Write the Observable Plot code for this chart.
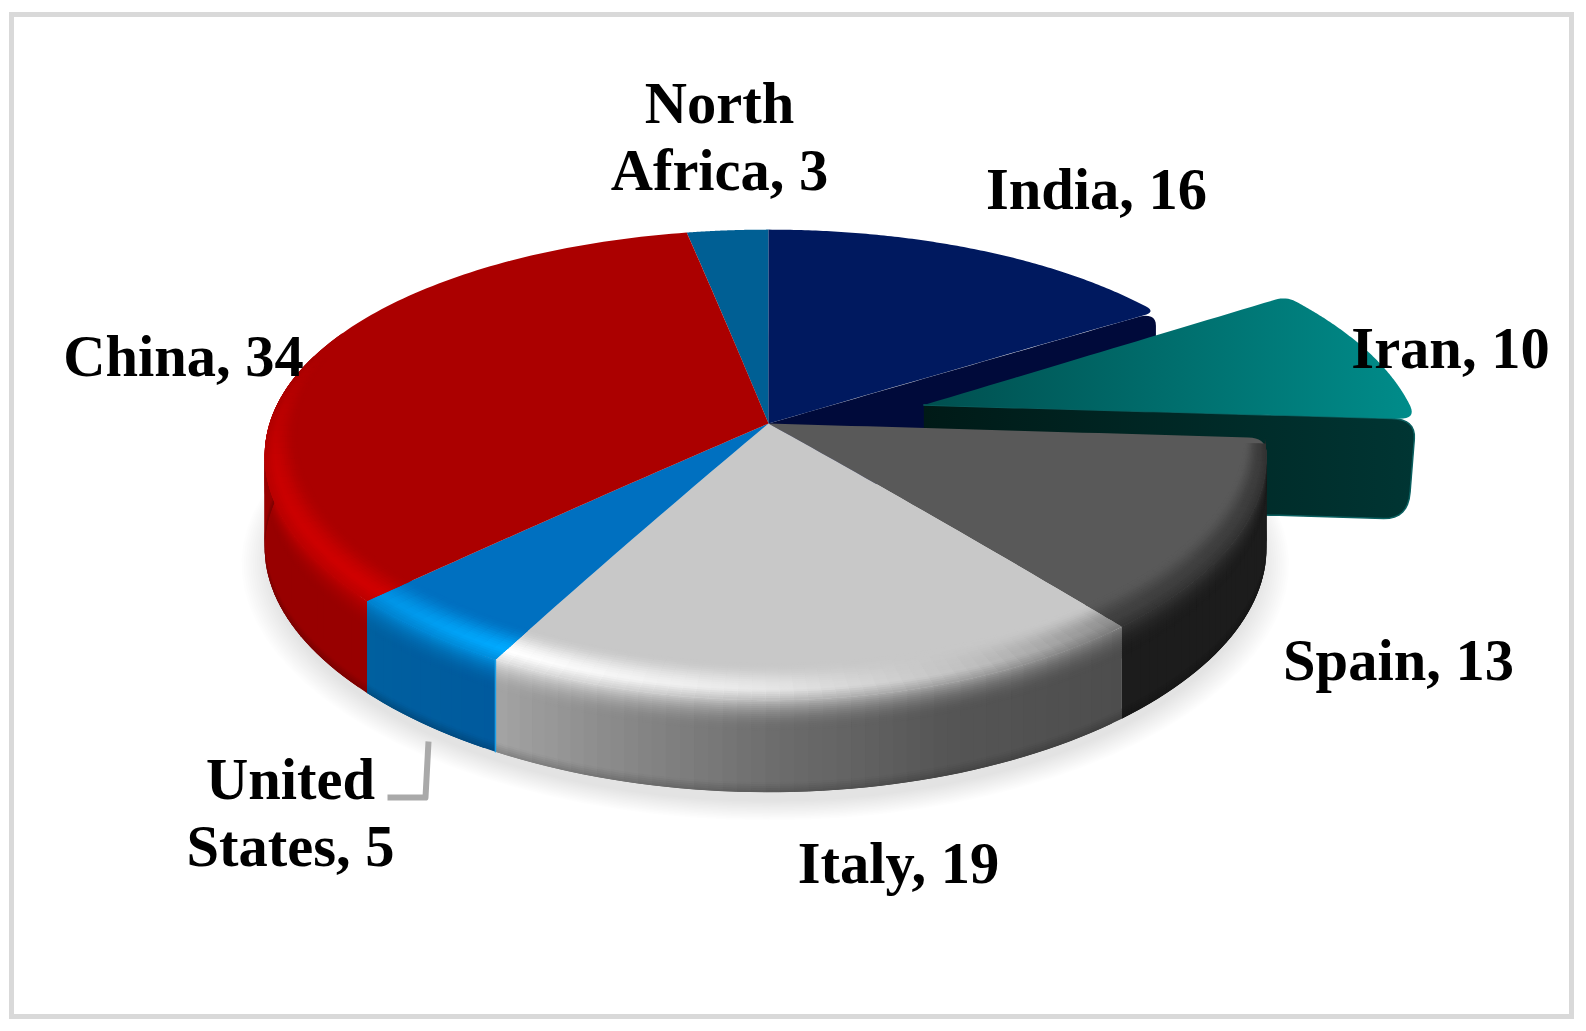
<!DOCTYPE html>
<html>
<head>
<meta charset="utf-8">
<script src="https://cdn.jsdelivr.net/npm/d3@7"></script>
<script src="https://cdn.jsdelivr.net/npm/@observablehq/plot@0.6"></script>
<style>html,body{margin:0;padding:0;background:#fff}svg{display:block}</style>
</head>
<body>
<div id="chart"></div>
<script>
// ---- data (clockwise from twelve o'clock) ----
const categories = ["India", "Iran", "Spain", "Italy", "United States", "China", "North Africa"];
const values = [16, 10, 13, 19, 5, 34, 3];

// ---- labels ----
const labelLines = {"India":"India, 16","Iran":"Iran, 10","Spain":"Spain, 13","Italy":"Italy, 19",
  "United States":"United\nStates, 5","China":"China, 34","North Africa":"North\nAfrica, 3"};
const labelX = {"India":1096,"Iran":1450,"Spain":1398,"Italy":898,"United States":290,"China":183,"North Africa":719};
const labelBase = {"India":208,"Iran":367,"Spain":679,"Italy":882,"United States":865,"China":375,"North Africa":189};
const leader = [[428,741],[425,797],[387,797]];

// ---- styling ----
const topColor = {"India":"#00195f","Iran":"url(#iranTop)","Spain":"#595959","Italy":"#c8c8c8",
  "United States":"#0070c0","China":"#ab0000","North Africa":"#005f94"};
const hiStops = {
  "Spain":[[.26,"#3c3c3c"],[.39,"#404040"]],
  "Italy":[[.39,"#909090"],[.44,"#c0c0c0"],[.5,"#e6e6e6"],[.56,"#fafafa"],[.58,"#ffffff"]],
  "United States":[[.58,"#00aaff"],[.63,"#0092e4"]],
  "China":[[.63,"#d00000"],[.72,"#c80000"],[.8,"#ab0000"]]
};
const sideStops = {
  "Spain":[[.26,"#1c1c1c"],[.39,"#1c1c1c"]],
  "Italy":[[.39,"#4d4d4d"],[.45,"#555555"],[.5,"#6e6e6e"],[.54,"#888888"],[.58,"#a4a4a4"]],
  "United States":[[.58,"#005a9e"],[.63,"#00609f"]],
  "China":[[.63,"#980000"],[.8,"#980000"]]
};

// ---- pie geometry: a unit disc seen in perspective ----
const cx = 768, cy = 423, R = 496, H = 228, K = 0.176, KX = 0.14, depth = 92, iranDepth = 100, explode = 0.33;
const total = d3.sum(values);
const cum = d3.cumsum(values).map(v => v / total);
const span = c => { const i = categories.indexOf(c); return [i ? cum[i-1] : 0, cum[i]]; };
const proj = (r, t, ox = 0, oy = 0, d = 0) => {
  const u = r * Math.sin(2*Math.PI*t), v = r * Math.cos(2*Math.PI*t);
  return [cx + R*u/(1 + KX*v) - 3*u*u, cy - H*v/(1 + K*v) + d];
};
// the pulled-out slice keeps its own mapping
const projIran = (r, t, ox, oy) => {
  const u = r * Math.sin(2*Math.PI*t) + ox, v = r * Math.cos(2*Math.PI*t) + oy, w = 1 + K*v;
  return [cx + 493*u/w, cy - H*v/w];
};
const dist = (a, b) => Math.hypot(a[0]-b[0], a[1]-b[1]);
const ramp = st => d3.scaleLinear().domain(st.map(s=>s[0])).range(st.map(s=>s[1])).interpolate(d3.interpolateRgb).clamp(true);

// outer corners rounded with a quadratic bezier
function rounded(poly, corners, rad) {
  const skip = new Set(), inserts = new Map();
  corners.forEach((c, k) => {
    const rd = Array.isArray(rad) ? rad[k] : rad;
    let a = c-1; while (a > 0 && dist(poly[a], poly[c]) < rd) a--;
    let b = c+1; while (b < poly.length-1 && dist(poly[b], poly[c]) < rd) b++;
    for (let i = a+1; i < b; i++) skip.add(i);
    const seg = [];
    for (let s = 0; s <= 8; s++) { const q = s/8, p = 1-q;
      seg.push([p*p*poly[a][0]+2*p*q*poly[c][0]+q*q*poly[b][0], p*p*poly[a][1]+2*p*q*poly[c][1]+q*q*poly[b][1]]); }
    inserts.set(c, seg);
  });
  const out = [];
  poly.forEach((p,i) => { if (inserts.has(i)) out.push(...inserts.get(i)); else if (!skip.has(i)) out.push(p); });
  return out;
}
function wedge(c, rad = [0, 0], map = (r,t) => proj(r,t)) {
  const [t0, t1] = span(c), pts = [], N = 30, A = 120;
  for (let i = 0; i < N; i++) pts.push(map(i/N, t0));
  const c0 = pts.length;
  for (let i = 0; i <= A; i++) pts.push(map(1, t0 + (t1-t0)*i/A));
  const c1 = pts.length - 1;
  for (let i = N-1; i >= 0; i--) pts.push(map(i/N, t1));
  const cs = [], rs = [];
  if (rad[0]) { cs.push(c0); rs.push(rad[0]); }
  if (rad[1]) { cs.push(c1); rs.push(rad[1]); }
  return cs.length ? rounded(pts, cs, rs) : pts;
}
const toRows = (pts, id, color) => pts.map(p => ({id, x:p[0], y:p[1], color}));
const poly = (pts, fill, extra = {}) => Plot.line(pts.map(p=>({x:p[0],y:p[1]})),
  {x:"x", y:"y", fill, stroke:"none", curve:"linear", ...extra});
const segment = (a, b, n) => d3.range(1, n+1).map(i => [a[0]+(b[0]-a[0])*i/n, a[1]+(b[1]-a[1])*i/n]);

// side wall & bevel strips: each strip runs under the next one, so no seams show
function sideStrips(c, tStart, tEnd) {
  const hi = ramp(hiStops[c]), side = ramp(sideStops[c]), out = [];
  const T = 30;
  const prof = [...d3.range(0,T,2), T, depth-10, depth-8, depth-6, depth-4, depth-2, depth];
  const dt = .004, n = Math.ceil((tEnd-tStart)/dt), step = (tEnd-tStart)/n;
  for (let i = 0; i < n; i++) {
    const a = tStart+i*step, b = Math.min(tEnd, a+step*2), m = a+step/2;
    const S = side(m), M = d3.interpolateRgb(hi(m), S)(.35);
    for (let j = 0; j < prof.length-1; j++) {
      const d0 = prof[j], d1 = prof[j+1], dm = (d0+d1)/2;
      const col = dm < T ? d3.interpolateRgb(M, S)(d3.easeQuadOut(dm/T))
        : dm < depth-10 ? S : d3.interpolateRgb(S, d3.rgb(S).darker(.6))((dm-(depth-10))/10);
      const e = j < prof.length-2 ? 1.5 : 0;
      out.push(...toRows([proj(1,a,0,0,d0),proj(1,b,0,0,d0),proj(1,b,0,0,d1+e),proj(1,a,0,0,d1+e)], `${c}s${i}_${j}`, col));
    }
  }
  return out;
}
function bevel(c, tStart, tEnd) {
  const hi = ramp(hiStops[c]), F = topColor[c], side = ramp(sideStops[c]), out = [];
  const bw = t => { const v = Math.cos(2*Math.PI*t), u = Math.sin(2*Math.PI*t);
    return .014 + .098*Math.max(0, Math.min(1,(.3-v)/1.3)) + .02*Math.max(0,-u); };
  const rings = 18, dt = .004, n = Math.ceil((tEnd-tStart)/dt), step = (tEnd-tStart)/n;
  for (let i = 0; i < n; i++) {
    const a = tStart+i*step, b = Math.min(tEnd, a+step*2), m = a+step/2;
    for (let j = 0; j < rings; j++) {
      const s = (j+.5)/rings, H_ = hi(m), M = d3.interpolateRgb(H_, side(m))(.35);
      const col = s < .72 ? d3.interpolateRgb(F, H_)(d3.easeSinInOut(s/.72)) : d3.interpolateRgb(H_, M)((s-.72)/.28);
      const r0 = t => 1-bw(t)*(1-j/rings), r1 = t => Math.min(1, 1-bw(t)*(1-(j+1)/rings-.08));
      out.push(...toRows([proj(r0(a),a),proj(r0(b),b),proj(r1(b),b),proj(r1(a),a)], `${c}b${i}_${j}`, col));
    }
  }
  return out;
}
const drawStrips = rowsIn => Plot.line(rowsIn, {x:"x", y:"y", z:"id", fill:"color", stroke:"none", curve:"linear"});

// Iran: pulled out along its mid-angle
const [it0, it1] = span("Iran"), itm = (it0+it1)/2;
const ox = explode*Math.sin(2*Math.PI*itm), oy = explode*Math.cos(2*Math.PI*itm);
const iranMap = (r,t) => projIran(r,t,ox,oy);
const apex = iranMap(0,0), outer = iranMap(1,it1);
const iranCut = (() => {
  const pts = [apex, ...segment(apex, outer, 60)];
  const c0 = pts.length-1, low = [outer[0]-8, outer[1]+iranDepth];
  pts.push(...segment(outer, low, 30));
  const c1 = pts.length-1;
  pts.push(...segment(low, [apex[0], apex[1]+iranDepth], 60));
  return rounded(pts, [c0, c1], [18, 24]);
})();

// India's cut face, rounded at its outer end
const [, ind1] = span("India");
const indiaCorner = proj(1, ind1);
const indiaCut = (() => {
  const o = proj(0,0), low = [indiaCorner[0], indiaCorner[1]+depth];
  const pts = [o, ...segment(o, indiaCorner, 40)];
  const c = pts.length-1;
  pts.push(...segment(indiaCorner, low, 20), [cx, cy+depth]);
  return rounded(pts, [c], 12);
})();

// shadow: stacked translucent discs dropped below the wall, fading outwards
const shadowLayers = d3.range(14).flatMap(k => {
  const r = 1.045 - k*.055/13;
  return d3.range(0,1.001,.01).map(t => { const p = proj(r,t,0,0,depth+13); return {id:k, x:p[0], y:p[1]}; });
});

const defs = () => {
  const s = d3.create("svg:defs");
  const g = (id, a, b) => { const l = s.append("linearGradient").attr("id", id);
    l.append("stop").attr("offset","0").attr("stop-color",a);
    l.append("stop").attr("offset","1").attr("stop-color",b); };
  g("iranTop", "#004f4f", "#008c8a");
  g("iranCut", "#001a17", "#003533");
  return s.node();
};

const labels = categories.map(c => ({text:labelLines[c], x:labelX[c], y:labelBase[c]}));
const [usT] = span("United States");

const plot = Plot.plot({
  width:1586, height:1031, margin:0, style:{background:"#fff"},
  x:{domain:[0,1586], range:[0,1586], axis:null},
  y:{domain:[0,1031], range:[0,1031], axis:null},
  color:{type:"identity"},
  marks:[
    defs,
    Plot.frame({stroke:"#d9d9d9", strokeWidth:5, insetLeft:11, insetRight:15, insetTop:14, insetBottom:15}),
    Plot.line(shadowLayers, {x:"x", y:"y", z:"id", fill:"#000", fillOpacity:.0095, stroke:"none", curve:"linear"}),
    poly(wedge("North Africa"), topColor["North Africa"]),
    poly(indiaCut, "#000a3a"),
    poly(wedge("India",[0,9]), topColor["India"]),
    poly(iranCut, "url(#iranCut)", {stroke:"#0a5f5f", strokeWidth:1.5}),
    poly(wedge("Iran",[9,14],iranMap), topColor["Iran"]),
    drawStrips([
      ...sideStrips("Spain", ...span("Spain")),
      ...sideStrips("Italy", ...span("Italy")),
      ...sideStrips("United States", ...span("United States")),
      ...sideStrips("China", span("China")[0], .82)
    ]),
    Plot.line([proj(1,usT), proj(1,usT,0,0,depth)], {x:d=>d[0], y:d=>d[1], stroke:"#1aa0e8", strokeWidth:1.5}),
    poly(wedge("Spain",[12,0]), topColor["Spain"]),
    poly(wedge("Italy"), topColor["Italy"]),
    poly(wedge("United States"), topColor["United States"]),
    poly(wedge("China"), topColor["China"]),
    drawStrips([
      ...bevel("Spain", span("Spain")[0]+.004, span("Spain")[1]),
      ...bevel("Italy", ...span("Italy")),
      ...bevel("United States", ...span("United States")),
      ...bevel("China", span("China")[0], .8)
    ]),
    Plot.line(leader, {x:d=>d[0], y:d=>d[1], stroke:"#a9a9a9", strokeWidth:6, strokeLinejoin:"round", strokeLinecap:"butt"}),
    Plot.text(labels, {x:"x", y:"y", text:"text", fontFamily:"Liberation Serif", fontWeight:"bold",
      fontSize:58.5, fill:"#000", textAnchor:"middle", lineAnchor:"bottom", lineHeight:1.145})
  ]
});
document.getElementById("chart").append(plot);
</script>
</body>
</html>
